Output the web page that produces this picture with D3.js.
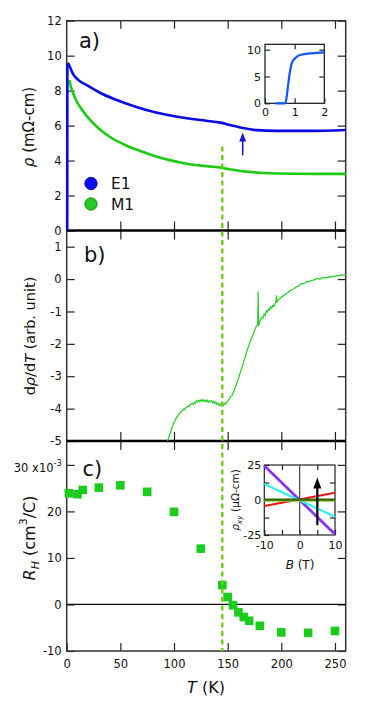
<!DOCTYPE html>
<html>
<head>
<meta charset="utf-8">
<script src="https://cdnjs.cloudflare.com/ajax/libs/d3/7.8.5/d3.min.js"></script>
<style>
    body { margin: 0; background: #fff; }
    svg { display: block; font-family: "DejaVu Sans", sans-serif; }
</style>
</head>
<body>
<div id="chart"></div>
<script>
// panel a) resistivity of E1 and M1
var tE1 = [0.5, 0.6, 1.5, 3, 6, 11, 19, 31, 43, 56, 75, 93, 112, 130, 143, 152, 164, 177, 195, 226, 260];
var rhoE1 = [0, 9.3, 9.55, 9.35, 8.95, 8.6, 8.3, 7.88, 7.55, 7.25, 6.88, 6.62, 6.42, 6.28, 6.17, 6.04, 5.86, 5.74, 5.7, 5.7, 5.75];
var tM1 = [2.5, 4, 6, 9, 12.5, 18, 25, 32, 40, 56, 70, 81, 95, 112, 130, 145, 155, 165, 180, 196, 230, 260];
var rhoM1 = [8.6, 8.2, 7.85, 7.42, 7.06, 6.6, 6.12, 5.72, 5.36, 4.85, 4.52, 4.28, 4.04, 3.82, 3.68, 3.58, 3.47, 3.38, 3.3, 3.26, 3.24, 3.24];

// inset of a) low temperature transition
var tInset = [0.35, 0.5, 0.68, 0.72, 0.76, 0.8, 0.85, 0.9, 1.0, 1.1, 1.25, 1.5, 1.75, 2.0];
var rhoInset = [0, 0, 0, 0.8, 2.5, 4.3, 6.2, 7.4, 8.3, 8.8, 9.1, 9.3, 9.4, 9.5];

// panel b) d rho / dT  [T, value]
var dRhoCurve = [
    [94, -5.0], [95, -4.9], [96, -4.78], [97, -4.72], [98, -4.58], [99, -4.52], [100, -4.42],
    [101, -4.38], [102, -4.3], [103, -4.24], [104, -4.22], [105, -4.15], [106, -4.12], [107, -4.08],
    [108, -4.06], [109, -4.01], [110, -4.03], [111, -3.97], [112, -3.95], [113, -3.92], [114, -3.94],
    [115, -3.88], [116, -3.86], [117, -3.84], [118, -3.87], [119, -3.8], [120, -3.83], [121, -3.76],
    [122, -3.79], [123, -3.74], [124, -3.78], [125, -3.73], [126, -3.77], [127, -3.72], [128, -3.78],
    [129, -3.74], [130, -3.79], [131, -3.74], [132, -3.8], [133, -3.76], [134, -3.79], [135, -3.75],
    [136, -3.82], [137, -3.78], [138, -3.84], [139, -3.8], [140, -3.87], [141, -3.83], [142, -3.9],
    [143, -3.86], [144, -3.92], [145, -3.87], [146, -3.9], [147, -3.84], [148, -3.86], [149, -3.8],
    [150, -3.78], [151, -3.73], [152, -3.68], [153, -3.62], [154, -3.6], [155, -3.52], [156, -3.44],
    [157, -3.35], [158, -3.28], [159, -3.15], [160, -3.08], [161, -2.95], [162, -2.88], [163, -2.74],
    [164, -2.68], [165, -2.55], [166, -2.45], [167, -2.32], [168, -2.22], [169, -2.12], [170, -2.02],
    [171, -1.92], [172, -1.84], [173, -1.76], [174, -1.7], [175, -1.6], [176, -1.5], [177, -1.45],
    [178, -1.4], [178.4, -0.38], [178.8, -1.45], [180, -1.3], [181, -1.24], [182, -1.18], [183, -1.2],
    [184, -1.08], [185, -1.12], [186, -0.98], [187, -1.02], [188, -0.92], [189, -0.96], [190, -0.86],
    [191, -0.9], [192, -0.82], [193, -0.84], [194, -0.76], [195, -0.72], [195.5, -0.5], [196, -0.7],
    [197, -0.66], [198, -0.62], [199, -0.6], [200, -0.55], [202, -0.52], [204, -0.45], [206, -0.42],
    [208, -0.36], [210, -0.32], [212, -0.3], [214, -0.24], [216, -0.22], [218, -0.16], [220, -0.14],
    [222, -0.12], [224, -0.08], [226, -0.08], [228, -0.04], [230, -0.03], [232, 0.0], [234, 0.02],
    [236, -0.01], [238, 0.04], [240, 0.05], [242, 0.03], [244, 0.07], [246, 0.06], [248, 0.09],
    [250, 0.08], [252, 0.11], [254, 0.1], [256, 0.13], [258, 0.12], [260, 0.14]
];

// panel c) Hall coefficient (x10^-3)
var tHall = [2, 10, 15, 30, 50, 75, 100, 125, 145, 150, 155, 160, 165, 170, 180, 200, 225, 250];
var rHall = [23.9, 23.7, 24.6, 25.1, 25.6, 24.2, 19.9, 12.0, 4.15, 1.6, -0.15, -1.7, -2.7, -3.5, -4.6, -6.0, -6.1, -5.7];

// inset of c) rho_xy vs B, straight lines at several temperatures
var bField = [-10, 10];
var hallLines = [
    { name: "purple", color: "#8833ee", values: [24.5, -24.5] },
    { name: "cyan", color: "#33eeee", values: [11.5, -12] },
    { name: "red", color: "#ee1515", values: [-4.3, 5.2] },
    { name: "lightgreen", color: "#88cc33", values: [-0.4, -0.4] },
    { name: "darkgreen", color: "#336600", values: [0.3, 0.3] }
];

var xTickVals = [0, 50, 100, 150, 200, 250];
var yTicksA = [0, 2, 4, 6, 8, 10, 12];
var yTicksB = [-5, -4, -3, -2, -1, 0, 1];
var yTicksC = [-10, 0, 10, 20, 30];
var tTransition = 145;

var svgWidth = 382, svgHeight = 715;
var left = 66.7, right = 345.7;
var plain = function (d) { return String(d); };

var svg = d3.select("#chart").append("svg")
    .attr("width", svgWidth)
    .attr("height", svgHeight);

var x = d3.scaleLinear().domain([0, 260]).range([left, right]);
var yA = d3.scaleLinear().domain([0, 12]).range([230.5, 20.7]);
var yB = d3.scaleLinear().domain([-5, 1.5]).range([441, 230.5]);
var yC = d3.scaleLinear().domain([-10, 35]).range([651, 441.6]);

function styleAxis(g, size) {
    g.select(".domain").remove();
    g.selectAll("line").attr("stroke", "#222").attr("stroke-width", 1.2);
    g.selectAll("text").attr("font-size", size || 11.5).attr("fill", "#111")
        .attr("font-family", "DejaVu Sans, sans-serif");
}

// y axes for each panel, left with labels, right without
function yAxes(scale, vals) {
    svg.append("g")
        .attr("transform", `translate(${left},0)`)
        .call(d3.axisLeft(scale).tickValues(vals).tickSize(-8).tickPadding(5).tickFormat(plain))
        .call(styleAxis);
    svg.append("g")
        .attr("transform", `translate(${right},0)`)
        .call(d3.axisRight(scale).tickValues(vals).tickSize(-8).tickFormat(""))
        .call(styleAxis);
}
yAxes(yA, yTicksA);
yAxes(yB, yTicksB);
yAxes(yC, yTicksC.filter(function (d) { return d !== 30; }));
svg.append("g")
    .attr("transform", `translate(${right},0)`)
    .call(d3.axisRight(yC).tickValues([30]).tickSize(-8).tickFormat(""))
    .call(styleAxis);
svg.append("g")
    .attr("transform", `translate(${left},0)`)
    .call(d3.axisLeft(yC).tickValues([30]).tickSize(-8).tickFormat(""))
    .call(styleAxis);

// the "30 x10^-3" label
var lab30 = svg.append("text")
    .attr("x", 61.5)
    .attr("y", yC(30) + 7)
    .attr("text-anchor", "end")
    .attr("font-size", 11.5)
    .attr("fill", "#111");
lab30.append("tspan").text("30 x10");
lab30.append("tspan").attr("font-size", 8).attr("dy", -6).text("-3");

// x ticks on top edge, both separators and the bottom
function xTicks(y0, len) {
    svg.append("g")
        .attr("transform", `translate(0,${y0})`)
        .call(d3.axisBottom(x).tickValues(xTickVals.slice(1)).tickSize(len).tickFormat(""))
        .call(styleAxis);
}
xTicks(yA(12), 8);
xTicks(yA(0), 9);
xTicks(yA(0), -9);
xTicks(yB(-5), 9);
xTicks(yB(-5), -9);
svg.append("g")
    .attr("transform", `translate(0,${yC(-10)})`)
    .call(d3.axisBottom(x).tickValues(xTickVals).tickSize(-8).tickPadding(9).tickFormat(plain))
    .call(styleAxis);

// frame
svg.append("rect")
    .attr("x", left).attr("y", yA(12))
    .attr("width", right - left).attr("height", yC(-10) - yA(12))
    .attr("fill", "none").attr("stroke", "#333").attr("stroke-width", 1.5);

// zero line of panel c
svg.append("line")
    .attr("x1", left).attr("x2", right)
    .attr("y1", yC(0)).attr("y2", yC(0))
    .attr("stroke", "#111").attr("stroke-width", 1.2);

// panel a curves
var lineA = d3.line()
    .x(function (d) { return x(d[0]); })
    .y(function (d) { return yA(d[1]); })
    .curve(d3.curveMonotoneX);

svg.append("path")
    .datum(d3.zip(tM1, rhoM1))
    .attr("d", lineA)
    .attr("fill", "none").attr("stroke", "#1ccc12").attr("stroke-width", 2.6);

svg.append("path")
    .datum(d3.zip(tE1, rhoE1))
    .attr("d", lineA)
    .attr("fill", "none").attr("stroke", "#0a0ae6").attr("stroke-width", 2.6)
    .attr("stroke-linejoin", "round");

// separators (drawn after curves so they sit on top)
[yA(0), yB(-5)].forEach(function (yy) {
    svg.append("line")
        .attr("x1", left).attr("x2", right)
        .attr("y1", yy).attr("y2", yy)
        .attr("stroke", "#000").attr("stroke-width", 2.4);
});

// blue arrow marking the kink
var ax = x(164), aTop = yA(5.6), aBot = yA(4.3);
svg.append("line")
    .attr("x1", ax).attr("x2", ax)
    .attr("y1", aBot).attr("y2", aTop + 6)
    .attr("stroke", "#1a1ad0").attr("stroke-width", 1.6);
svg.append("path")
    .attr("d", `M${ax},${aTop} L${ax - 3.5},${aTop + 9} L${ax + 3.5},${aTop + 9} Z`)
    .attr("fill", "#1a1ad0");

// legend
var legend = [{ label: "E1", color: "#0a0af0", stroke: "#000080" }, { label: "M1", color: "#22cc22", stroke: "#117711" }];
legend.forEach(function (d, i) {
    var cy = 183.5 + i * 20.5;
    svg.append("circle").attr("cx", 91).attr("cy", cy).attr("r", 6.2)
        .attr("fill", d.color).attr("stroke", d.stroke).attr("stroke-width", 0.8);
    svg.append("text").attr("x", 111).attr("y", cy + 5.5)
        .attr("font-size", 15.5).attr("fill", "#111").text(d.label);
});

// panel b curve
svg.append("path")
    .datum(dRhoCurve)
    .attr("d", d3.line()
        .x(function (d) { return x(d[0]); })
        .y(function (d) { return yB(d[1]); }))
    .attr("fill", "none").attr("stroke", "#22cc22").attr("stroke-width", 1.2);

// panel c squares
svg.append("g").selectAll("rect")
    .data(d3.zip(tHall, rHall))
    .join("rect")
    .attr("x", function (d) { return x(d[0]) - 4.3; })
    .attr("y", function (d) { return yC(d[1]) - 4.3; })
    .attr("width", 8.6).attr("height", 8.6)
    .attr("fill", "#1ccc1c");

// dashed transition line through all panels
svg.append("line")
    .attr("x1", x(tTransition)).attr("x2", x(tTransition))
    .attr("y1", yA(4.8)).attr("y2", yC(-10))
    .attr("stroke", "#6ccc1a").attr("stroke-width", 2.4)
    .attr("stroke-dasharray", "5,3.5");

// panel labels
svg.append("text").attr("x", 79).attr("y", 48).attr("font-size", 21).attr("fill", "#111").text("a)");
svg.append("text").attr("x", 84).attr("y", 261.5).attr("font-size", 21).attr("fill", "#111").text("b)");
svg.append("text").attr("x", 82.5).attr("y", 475.5).attr("font-size", 21).attr("fill", "#111").text("c)");

// axis titles
var tA = svg.append("text")
    .attr("transform", "translate(34,127) rotate(-90)")
    .attr("text-anchor", "middle").attr("font-size", 15).attr("fill", "#111");
tA.append("tspan").attr("font-style", "italic").text("ρ");
tA.append("tspan").text(" (mΩ-cm)");

var tB = svg.append("text")
    .attr("transform", "translate(35,336) rotate(-90)")
    .attr("text-anchor", "middle").attr("font-size", 14.5).attr("fill", "#111");
tB.append("tspan").text("d");
tB.append("tspan").attr("font-style", "italic").text("ρ");
tB.append("tspan").text("/d");
tB.append("tspan").attr("font-style", "italic").text("T");
tB.append("tspan").text(" (arb. unit)");

var tC = svg.append("text")
    .attr("transform", "translate(35,538) rotate(-90)")
    .attr("text-anchor", "middle").attr("font-size", 16).attr("fill", "#111");
tC.append("tspan").attr("font-style", "italic").text("R");
tC.append("tspan").attr("font-style", "italic").attr("font-size", 11).attr("dy", 4).text("H");
tC.append("tspan").attr("dy", -4).text(" (cm");
tC.append("tspan").attr("font-size", 11).attr("dy", -8).text("3");
tC.append("tspan").attr("dy", 8).text("/C)");

var tX = svg.append("text")
    .attr("x", 206).attr("y", 693)
    .attr("text-anchor", "middle").attr("font-size", 16).attr("fill", "#111");
tX.append("tspan").attr("font-style", "italic").text("T");
tX.append("tspan").text(" (K)");

// ---- inset a ----
var xi = d3.scaleLinear().domain([0, 2]).range([265, 324.3]);
var yi = d3.scaleLinear().domain([0, 11]).range([103.3, 44.3]);

svg.append("rect").attr("x", 265).attr("y", 44.3).attr("width", 59.3).attr("height", 59)
    .attr("fill", "#fff").attr("stroke", "#111").attr("stroke-width", 1.2);
svg.append("g").attr("transform", "translate(0,103.3)")
    .call(d3.axisBottom(xi).tickValues([0, 1, 2]).tickSize(-5).tickPadding(5).tickFormat(plain))
    .call(function (g) { styleAxis(g, 11); });
svg.append("g").attr("transform", "translate(0,44.3)")
    .call(d3.axisTop(xi).tickValues([1]).tickSize(-5).tickFormat(""))
    .call(styleAxis);
svg.append("g").attr("transform", "translate(265,0)")
    .call(d3.axisLeft(yi).tickValues([0, 5, 10]).tickSize(-5).tickPadding(4).tickFormat(plain))
    .call(function (g) { styleAxis(g, 11); });
svg.append("g").attr("transform", "translate(324.3,0)")
    .call(d3.axisRight(yi).tickValues([5, 10]).tickSize(-5).tickFormat(""))
    .call(styleAxis);
svg.append("path")
    .datum(d3.zip(tInset, rhoInset))
    .attr("d", d3.line()
        .x(function (d) { return xi(d[0]); })
        .y(function (d) { return yi(d[1]); })
        .curve(d3.curveMonotoneX))
    .attr("fill", "none").attr("stroke", "#1155ff").attr("stroke-width", 2.2);

// ---- inset c ----
var xb = d3.scaleLinear().domain([-10, 10]).range([264.3, 335]);
var yb = d3.scaleLinear().domain([-25, 25]).range([535, 465]);

svg.append("rect").attr("x", 264.3).attr("y", 465).attr("width", 70.7).attr("height", 70)
    .attr("fill", "#fff").attr("stroke", "#222").attr("stroke-width", 1.2);
svg.append("g").attr("transform", "translate(0,535)")
    .call(d3.axisBottom(xb).tickValues([-10, -5, 0, 5, 10]).tickSize(-5).tickPadding(6)
        .tickFormat(function (d) { return d % 10 === 0 ? String(d) : ""; }))
    .call(function (g) { styleAxis(g, 11); });
svg.append("g").attr("transform", "translate(0,465)")
    .call(d3.axisTop(xb).tickValues([-5, 5]).tickSize(-5).tickFormat(""))
    .call(styleAxis);
svg.append("g").attr("transform", "translate(264.3,0)")
    .call(d3.axisLeft(yb).tickValues([-25, -12.5, 0, 12.5, 25]).tickSize(-5).tickPadding(3)
        .tickFormat(function (d) { return d % 25 === 0 ? String(d) : ""; }))
    .call(function (g) { styleAxis(g, 11); });
svg.append("g").attr("transform", "translate(335,0)")
    .call(d3.axisRight(yb).tickValues([-12.5, 12.5]).tickSize(-5).tickFormat(""))
    .call(styleAxis);
svg.append("line")
    .attr("x1", xb(0)).attr("x2", xb(0)).attr("y1", 465).attr("y2", 535)
    .attr("stroke", "#444").attr("stroke-width", 1.2);

hallLines.forEach(function (s) {
    svg.append("path")
        .datum(d3.zip(bField, s.values))
        .attr("d", d3.line()
            .x(function (d) { return xb(d[0]); })
            .y(function (d) { return yb(d[1]); }))
        .attr("stroke", s.color).attr("stroke-width", s.name === "purple" ? 2.8 : 2.2)
        .attr("fill", "none");
});

// black arrow in the inset
var bx = xb(5), bTop = yb(16), bBot = yb(-18);
svg.append("line").attr("x1", bx).attr("x2", bx).attr("y1", bBot).attr("y2", bTop + 8)
    .attr("stroke", "#000").attr("stroke-width", 2.2);
svg.append("path")
    .attr("d", `M${bx},${bTop} L${bx - 4},${bTop + 11} L${bx + 4},${bTop + 11} Z`)
    .attr("fill", "#000");

var tI = svg.append("text")
    .attr("transform", "translate(239,500) rotate(-90)")
    .attr("text-anchor", "middle").attr("font-size", 10.5).attr("fill", "#111");
tI.append("tspan").attr("font-style", "italic").text("ρ");
tI.append("tspan").attr("font-style", "italic").attr("font-size", 7.5).attr("dy", 3).text("xy");
tI.append("tspan").attr("dy", -3).text(" (μΩ-cm)");

var tBf = svg.append("text")
    .attr("x", 300).attr("y", 569)
    .attr("text-anchor", "middle").attr("font-size", 12).attr("fill", "#111");
tBf.append("tspan").attr("font-style", "italic").text("B");
tBf.append("tspan").text(" (T)");
</script>
</body>
</html>
